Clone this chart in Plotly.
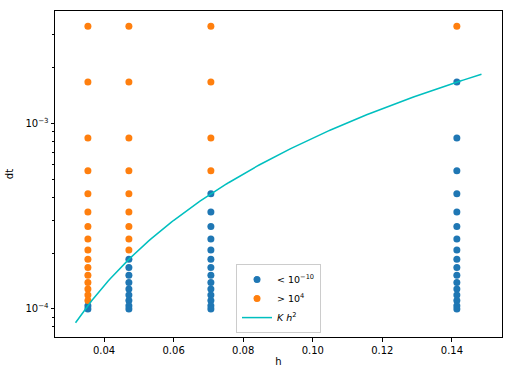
import numpy as np
import plotly.graph_objects as go

# Data
h_vals = [0.03536, 0.04714, 0.07071, 0.14142]
dt_vals = [3.33e-3, 1.67e-3, 8.33e-4, 5.56e-4, 4.17e-4, 3.33e-4, 2.78e-4,
           2.38e-4, 2.08e-4, 1.85e-4, 1.67e-4, 1.52e-4, 1.39e-4, 1.28e-4,
           1.19e-4, 1.11e-4, 1.04e-4, 1.0e-4]
n_unstable = [16, 9, 4, 1]  # number of top dt values that blew up, per h
K = 1.0 / 12.0
h_curve_min, h_curve_max = 0.0318, 0.1485

blue_h, blue_dt, orange_h, orange_dt = [], [], [], []
for h, n in zip(h_vals, n_unstable):
    for i, dt in enumerate(dt_vals):
        if i < n:
            orange_h.append(h); orange_dt.append(dt)
        else:
            blue_h.append(h); blue_dt.append(dt)

h_curve = np.linspace(h_curve_min, h_curve_max, 200)
dt_curve = K * h_curve ** 2

fig = go.Figure()
fig.add_trace(go.Scatter(x=blue_h, y=blue_dt, mode="markers",
                         marker=dict(color="#1f77b4", size=7),
                         name="&lt; 10<sup>−10</sup>"))
fig.add_trace(go.Scatter(x=orange_h, y=orange_dt, mode="markers",
                         marker=dict(color="#ff7f0e", size=7),
                         name="&gt; 10<sup>4</sup>"))
fig.add_trace(go.Scatter(x=h_curve, y=dt_curve, mode="lines",
                         line=dict(color="#00bfbf", width=1.5),
                         name="<i>K h</i><sup>2</sup>"))

axis_common = dict(showline=True, linecolor="black", linewidth=1, mirror=True,
                   ticks="outside", ticklen=3.5, tickwidth=0.8, tickcolor="black",
                   showgrid=False, zeroline=False, automargin=False,
                   tickfont=dict(family="DejaVu Sans", size=10, color="black"))

fig.update_layout(
    width=512, height=375,
    margin=dict(l=55, r=10, t=11, b=38, autoexpand=False),
    plot_bgcolor="white", paper_bgcolor="white",
    font=dict(family="DejaVu Sans", size=10, color="black"),
    xaxis=dict(range=[0.0259, 0.1544], tickvals=[0.04, 0.06, 0.08, 0.10, 0.12, 0.14],
               ticktext=["0.04", "0.06", "0.08", "0.10", "0.12", "0.14"],
               title=dict(text="h", standoff=3, font=dict(size=10)), **axis_common),
    yaxis=dict(type="log", range=[-4.151, -2.395], tickvals=[1e-4, 1e-3],
               ticktext=["10<sup>−4</sup>", "10<sup>−3</sup>"],
               title=dict(text="dt", standoff=9, font=dict(size=10)),
               minor=dict(ticks="outside", ticklen=2, tickwidth=0.6, tickcolor="black",
                          tickvals=[8e-5, 9e-5, 2e-4, 3e-4, 4e-4, 5e-4, 6e-4, 7e-4,
                                    8e-4, 9e-4, 2e-3, 3e-3]),
               **axis_common),
    legend=dict(x=0.5, y=0.012, xanchor="center", yanchor="bottom",
                bgcolor="rgba(255,255,255,0.8)", bordercolor="#cccccc", borderwidth=1,
                font=dict(size=9.5), itemwidth=30, tracegroupgap=0),
    showlegend=True,
)

fig.write_html("out.html", config={"displayModeBar": False},
               post_script="document.body.style.margin='0';document.body.style.overflow='hidden';")
